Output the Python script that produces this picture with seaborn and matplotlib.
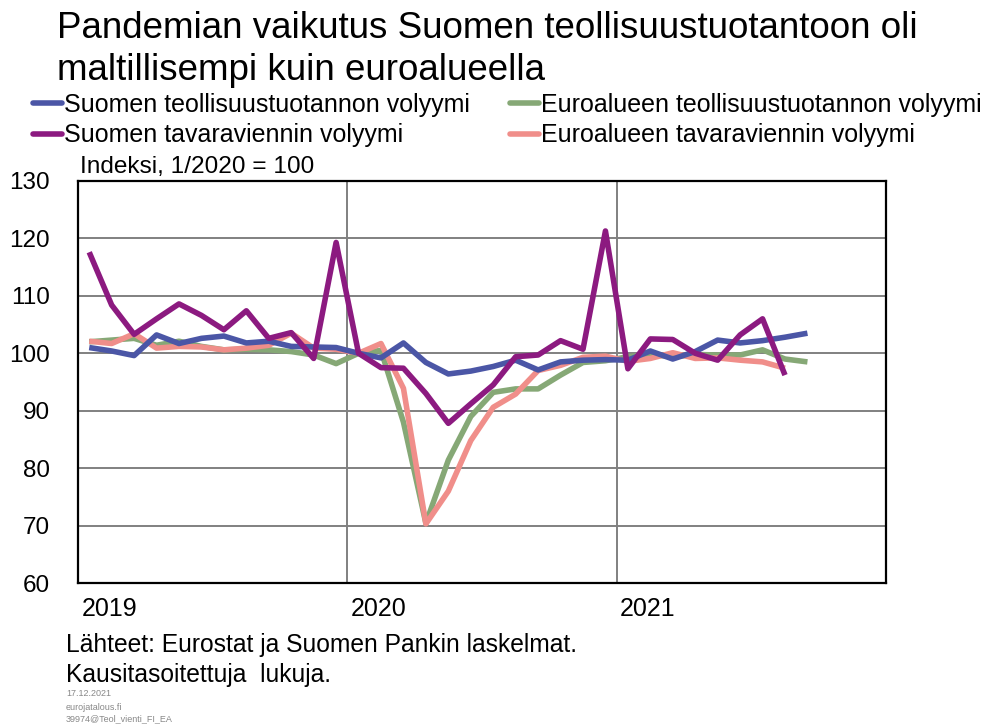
import matplotlib
matplotlib.use("Agg")
import matplotlib.pyplot as plt
import matplotlib.transforms as mtransforms
from matplotlib.lines import Line2D
import seaborn as sns
import pandas as pd
import numpy as np

# ---- data (monthly, Jan 2019 onwards; index 1/2020 = 100) ----
fi_ind = [101.0, 100.4, 99.6, 103.2, 101.7, 102.6, 103.0, 101.8, 102.1, 101.2, 101.1, 101.0,
          100.0, 99.2, 101.8, 98.4, 96.4, 96.9, 97.7, 98.8, 97.1, 98.5, 98.8, 98.9,
          98.8, 100.4, 99.0, 100.3, 102.3, 101.8, 102.2, 102.8, 103.5]
ea_ind = [102.0, 102.3, 102.6, 101.4, 102.1, 101.2, 100.6, 100.7, 100.6, 100.3, 99.7, 98.2,
          100.0, 100.5, 88.0, 70.4, 81.4, 89.0, 93.2, 93.8, 93.8, 96.2, 98.4, 98.7,
          99.4, 99.8, 99.4, 99.8, 99.7, 99.7, 100.6, 99.0, 98.5]
fi_exp = [117.6, 108.4, 103.3, 106.0, 108.6, 106.6, 104.1, 107.4, 102.6, 103.6, 99.1, 119.3,
          100.0, 97.5, 97.4, 93.0, 87.8, 91.2, 94.5, 99.4, 99.7, 102.2, 100.7, 121.3,
          97.3, 102.5, 102.4, 100.0, 98.8, 103.2, 106.0, 96.2]
ea_exp = [102.1, 101.7, 103.4, 100.9, 101.2, 101.1, 100.6, 100.9, 101.4, 103.5, 100.9, 100.7,
          100.0, 101.7, 93.9, 70.3, 76.0, 84.8, 90.6, 92.9, 97.0, 97.9, 99.3, 99.5,
          98.6, 99.1, 100.1, 99.1, 99.2, 98.8, 98.5, 97.4]

series_names = ["Suomen teollisuustuotannon volyymi",
                "Euroalueen teollisuustuotannon volyymi",
                "Suomen tavaraviennin volyymi",
                "Euroalueen tavaraviennin volyymi"]
series_values = [fi_ind, ea_ind, fi_exp, ea_exp]
colors = ["#4B56A6", "#86A876", "#8C1A80", "#F08E8A"]
years = ["2019", "2020", "2021"]
yticks = [60, 70, 80, 90, 100, 110, 120, 130]

rows = []
for name, vals in zip(series_names, series_values):
    for i, v in enumerate(vals):
        rows.append({"month": i + 0.5, "value": v, "series": name})
df = pd.DataFrame(rows)

sns.set_style("white")
plt.rcParams["font.family"] = ["Liberation Sans", "DejaVu Sans"]
plt.rcParams["text.color"] = "black"
plt.rcParams["xtick.color"] = "black"
plt.rcParams["ytick.color"] = "black"

fig = plt.figure(figsize=(9.87, 7.26), dpi=100)
ax = fig.add_axes([78 / 987, 1 - 583 / 726, (886 - 78) / 987, (583 - 181) / 726])

# draw order: green, pink, blue, purple
order = [1, 3, 0, 2]
for k in order:
    sub = df[df["series"] == series_names[k]]
    sns.lineplot(data=sub, x="month", y="value", color=colors[k], linewidth=4.0,
                 ax=ax, legend=False, solid_joinstyle="round", solid_capstyle="butt")

ax.set_xlim(0, 36)
ax.set_ylim(60, 130)
ax.set_yticks(yticks)
ax.set_yticklabels([str(t) for t in yticks], fontsize=17.5, color="black")
ax.tick_params(axis="y", length=0, pad=20)
ax.set_xticks([0, 12, 24, 36])
ax.set_xticklabels([])
ax.tick_params(axis="x", which="major", length=0)
ax.set_xticks(np.arange(0, 37, 1), minor=True)
ax.tick_params(axis="x", which="minor", direction="in", length=5, width=0.8, color="#555555")
ax.grid(True, axis="both", which="major", color="#808080", linewidth=1.4)
ax.set_axisbelow(True)
ax.set_xlabel("")
ax.set_ylabel("")
for sp in ax.spines.values():
    sp.set_color("black")
    sp.set_linewidth(1.6)

trans = mtransforms.blended_transform_factory(ax.transData, ax.transAxes)
for j, yl in enumerate(years):
    ax.text(j * 12 + 0.15, -0.065, yl, transform=trans, ha="left", va="center", fontsize=18,
            color="black")

# titles and texts
fig.text(57 / 987, 1 - 29 / 726, "Pandemian vaikutus Suomen teollisuustuotantoon oli",
         fontsize=26.5, va="center", ha="left", color="black")
fig.text(57 / 987, 1 - 71 / 726, "maltillisempi kuin euroalueella",
         fontsize=26.5, va="center", ha="left", color="black")
fig.text(80 / 987, 1 - 167 / 726, "Indeksi, 1/2020 = 100", fontsize=17.6, va="center",
         ha="left", color="black")
fig.text(66 / 987, 1 - 645 / 726, "Lähteet: Eurostat ja Suomen Pankin laskelmat.",
         fontsize=17.7, va="center", ha="left", color="black")
fig.text(66 / 987, 1 - 675 / 726, "Kausitasoitettuja  lukuja.",
         fontsize=17.7, va="center", ha="left", color="black")
for txt, yy in zip(["17.12.2021", "eurojatalous.fi", "39974@Teol_vienti_FI_EA"], [694, 707, 719]):
    fig.text(66 / 987, 1 - yy / 726, txt, fontsize=6.5, color="#888888", va="center", ha="left")

# legend
handles = [Line2D([], [], color=colors[k], linewidth=4.0) for k in [0, 2, 1, 3]]
labels = [series_names[k] for k in [0, 2, 1, 3]]
leg = fig.legend(handles, labels, loc="upper left", bbox_to_anchor=(33 / 987, 1 - 93 / 726),
                 ncol=2, frameon=False, fontsize=18, handlelength=1.15, handletextpad=0.1,
                 columnspacing=1.6, labelspacing=0.25, borderaxespad=0, borderpad=0)
for t in leg.get_texts():
    t.set_color("black")

fig.savefig("out.png", dpi=100)
